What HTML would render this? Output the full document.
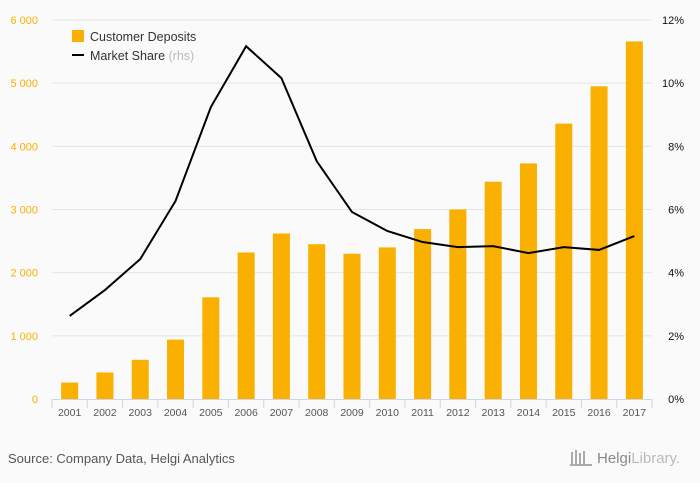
<!DOCTYPE html>
<html><head><meta charset="utf-8"><style>
body{margin:0;background:#fafafa;font-family:"Liberation Sans",sans-serif;}
svg{display:block}
</style></head><body>
<svg id="c" width="700" height="483">
<rect width="700" height="483" fill="#fafafa"/>
<g id="grid"></g><g id="bars"></g><g id="axes"></g><g id="line"></g>
<g>
<rect x="72" y="30" width="12" height="12" fill="#f9b000"/>
<text x="90" y="41" font-size="12.5" fill="#333">Customer Deposits</text>
<rect x="72" y="54" width="12" height="2" fill="#000"/>
<text x="90" y="60" font-size="12.5" fill="#333">Market Share <tspan fill="#bbb">(rhs)</tspan></text>
</g>
<text x="8" y="463" font-size="13" fill="#555">Source: Company Data, Helgi Analytics</text>
<text x="597" y="463" font-size="15" fill="#888">Helgi<tspan fill="#bbb">Library.</tspan></text>
<g fill="#aaa"><rect x="571" y="452" width="2" height="13"/><rect x="575" y="450" width="2" height="15"/><rect x="579" y="453" width="2" height="12"/><rect x="583" y="451" width="2" height="14"/><rect x="570" y="464" width="22" height="2"/></g>
</svg>
<script>
const years=["2001","2002","2003","2004","2005","2006","2007","2008","2009","2010","2011","2012","2013","2014","2015","2016","2017"];
const deposits=[260,420,620,940,1610,2320,2620,2450,2300,2400,2690,3000,3440,3730,4360,4950,5660];
const share=[2.63,3.45,4.43,6.27,9.24,11.17,10.16,7.53,5.92,5.32,4.97,4.81,4.84,4.62,4.81,4.72,5.16];
const leftTicks=[0,1000,2000,3000,4000,5000,6000];
const leftLabels=["0","1 000","2 000","3 000","4 000","5 000","6 000"];
const rightTicks=[0,2,4,6,8,10,12];
const NS="http://www.w3.org/2000/svg";
const x0=52,x1=652,y0=399,yT=20;
const bw=(x1-x0)/years.length;
const xC=i=>x0+bw*(i+0.5);
const yL=v=>y0-(v/6000)*(y0-yT);
const yR=v=>y0-(v/12)*(y0-yT);
function mk(t,a,p){const e=document.createElementNS(NS,t);for(const k in a)e.setAttribute(k,a[k]);p.appendChild(e);return e;}
const grid=document.getElementById('grid'),bars=document.getElementById('bars'),axes=document.getElementById('axes'),line=document.getElementById('line');
leftTicks.forEach((v,i)=>{
 if(v>0){const g=mk('line',{x1:x0,x2:x1,y1:yL(v),y2:yL(v),stroke:'#e4e4e4'},grid);
 
 }
 const t=mk('text',{x:38,y:yL(v)+4,'font-size':11,fill:'#f9b000','text-anchor':'end'},axes);t.textContent=leftLabels[i];
 
 
});
rightTicks.forEach(v=>{
 const t=mk('text',{x:684,y:yR(v)+4,'font-size':11,fill:'#111','text-anchor':'end'},axes);t.textContent=v+'%';
 
 
});
const ax=mk('line',{x1:x0,x2:x1,y1:y0+0.5,y2:y0+0.5,stroke:'#ccd6eb'},axes);


for(let i=0;i<=years.length;i++){const tk=mk('line',{x1:x0+bw*i,x2:x0+bw*i,y1:y0,y2:y0+9,stroke:'#ccd6eb'},axes);
 
 }
years.forEach((y,i)=>{
 const b=mk('rect',{x:xC(i)-8.5,y:yL(deposits[i]),width:17,height:y0-yL(deposits[i]),fill:'#f9b000'},bars);
 
 
 const t=mk('text',{x:xC(i),y:416,'font-size':10.5,fill:'#555','text-anchor':'middle'},axes);t.textContent=y;
 
 
});
const pl=mk('polyline',{points:share.map((v,i)=>xC(i)+','+yR(v)).join(' '),fill:'none',stroke:'#000','stroke-width':2},line);


</script>
</body></html>
